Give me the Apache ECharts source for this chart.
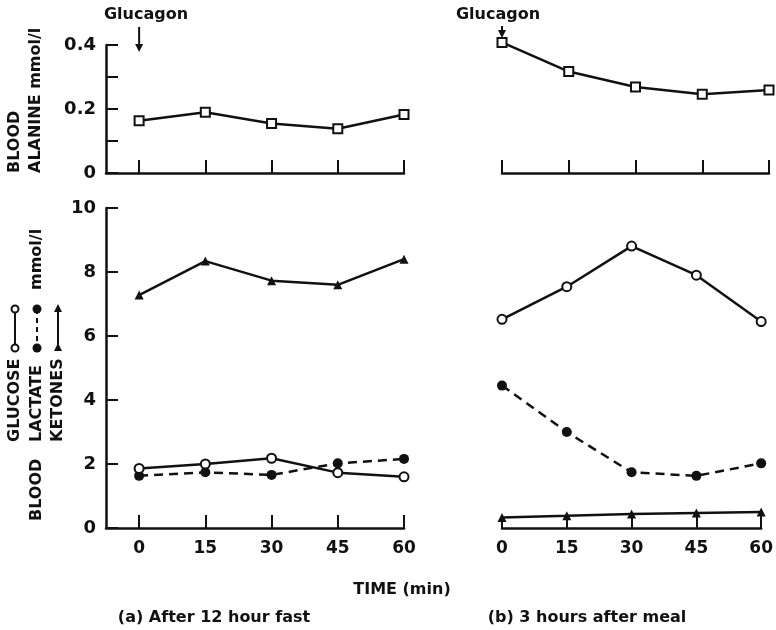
<!DOCTYPE html>
<html>
<head>
<meta charset="utf-8">
<script src="https://cdn.jsdelivr.net/npm/echarts@6/dist/echarts.min.js"></script>
<style>
  html, body { margin: 0; background: #fff; }
  #chart { width: 776px; height: 630px; }
</style>
</head>
<body>
<div id="chart"></div>
<script>
// time after glucagon (min)
const times = [0, 15, 30, 45, 60]

// (a) after 12 hour fast
const alanineFast = [0.163, 0.19, 0.155, 0.138, 0.183]
const glucoseFast = [1.86, 2.0, 2.18, 1.73, 1.6]
const lactateFast = [1.63, 1.74, 1.66, 2.02, 2.16]
const ketonesFast = [7.28, 8.34, 7.73, 7.6, 8.4]

// (b) 3 hours after meal
const alanineMeal = [0.408, 0.317, 0.269, 0.246, 0.259]
const glucoseMeal = [6.52, 7.54, 8.81, 7.9, 6.45]
const lactateMeal = [4.45, 3.0, 1.74, 1.63, 2.02]
const ketonesMeal = [0.33, 0.38, 0.44, 0.47, 0.5]

const alanineTicks = [0, 0.2, 0.4]

const INK = '#111'
const FONT = 'DejaVu Sans'
const bold = (size) => `bold ${size}px "${FONT}"`

const chart = echarts.init(document.getElementById('chart'))

function xAxis(gridIndex, min, labels) {
  return {
    type: 'value', gridIndex, min, max: 60,
    axisLine: { onZero: false, lineStyle: { color: INK, width: 2.5 } },
    axisTick: { inside: true, length: 13, customValues: times, lineStyle: { color: INK, width: 2 } },
    axisLabel: {
      show: labels, customValues: times, margin: 12,
      color: INK, fontFamily: FONT, fontWeight: 'bold', fontSize: 17
    },
    splitLine: { show: false }
  }
}

function yAxis(gridIndex, max, interval, labelValues, show) {
  return {
    type: 'value', gridIndex, min: 0, max, interval, show,
    axisLine: { show: true, onZero: false, lineStyle: { color: INK, width: 2.5 } },
    axisTick: { inside: true, length: 12, lineStyle: { color: INK, width: 2 } },
    axisLabel: {
      customValues: labelValues, margin: 10,
      formatter: (v) => (v === 0 ? '0' : (max < 1 ? v.toFixed(1) : String(v))),
      color: INK, fontFamily: FONT, fontWeight: 'bold', fontSize: 18
    },
    splitLine: { show: false }
  }
}

function line(idx, vals, symbol, size, dashed) {
  const empty = symbol.indexOf('empty') === 0
  return {
    type: 'line', xAxisIndex: idx, yAxisIndex: idx,
    data: times.map((t, i) => [t, vals[i]]),
    symbol, symbolSize: size, clip: false, animation: false,
    lineStyle: { color: INK, width: 2.5, type: dashed ? [9, 6] : 'solid' },
    itemStyle: { color: INK, borderColor: INK, borderWidth: empty ? 2 : 0 },
    z: empty ? 3 : 2
  }
}

chart.setOption({
  animation: false,
  grid: [
    { left: 106, top: 45, width: 298, height: 128 },
    { left: 502, top: 45, width: 267, height: 128 },
    { left: 106, top: 208, width: 298, height: 320 },
    { left: 502, top: 208, width: 267, height: 320 }
  ],
  xAxis: [
    xAxis(0, -7.5, false),
    xAxis(1, 0, false),
    xAxis(2, -7.5, true),
    xAxis(3, 0, true)
  ],
  yAxis: [
    yAxis(0, 0.4, 0.1, alanineTicks, true),
    yAxis(1, 0.4, 0.1, alanineTicks, false),
    yAxis(2, 10, 2, undefined, true),
    yAxis(3, 10, 2, undefined, false)
  ],
  series: [
    line(0, alanineFast, 'emptyRect', 9, false),
    line(1, alanineMeal, 'emptyRect', 9, false),
    line(2, ketonesFast, 'triangle', 9, false),
    line(2, lactateFast, 'circle', 10, true),
    line(2, glucoseFast, 'emptyCircle', 9, false),
    line(3, ketonesMeal, 'triangle', 9, false),
    line(3, lactateMeal, 'circle', 10, true),
    line(3, glucoseMeal, 'emptyCircle', 9, false)
  ]
})

// annotations: glucagon arrows, rotated axis titles, symbol key
const ax = chart.convertToPixel({ gridIndex: 0 }, [0, 0])[0]
const bx = chart.convertToPixel({ gridIndex: 1 }, [0, 0])[0]

function text(str, x, y, size, extra) {
  return Object.assign({ type: 'text', x, y, style: { text: str, font: bold(size), fill: INK, align: 'center', verticalAlign: 'middle' } }, extra)
}
function vtext(str, x, yBottom, size) {
  return { type: 'text', x, y: yBottom, rotation: Math.PI / 2,
    style: { text: str, font: bold(size), fill: INK, align: 'left', verticalAlign: 'middle' } }
}
function arrow(x, y1, y2) {
  return [
    { type: 'line', shape: { x1: x, y1, x2: x, y2: y2 - 4 }, style: { stroke: INK, lineWidth: 2 } },
    { type: 'polygon', shape: { points: [[x - 4, y2 - 8], [x + 4, y2 - 8], [x, y2]] }, style: { fill: INK } }
  ]
}
function keyMark(x, kind) {
  const yTop = 309, yBot = 348
  const out = [{ type: 'line', shape: { x1: x, y1: yTop, x2: x, y2: yBot },
    style: { stroke: INK, lineWidth: 2, lineDash: kind === 'lactate' ? [5, 4] : null } }]
  ;[yTop, yBot].forEach((y) => {
    if (kind === 'glucose') out.push({ type: 'circle', shape: { cx: x, cy: y, r: 3.5 }, style: { fill: '#fff', stroke: INK, lineWidth: 2 } })
    else if (kind === 'lactate') out.push({ type: 'circle', shape: { cx: x, cy: y, r: 4.5 }, style: { fill: INK } })
    else out.push({ type: 'polygon', shape: { points: [[x - 4, y + 3], [x + 4, y + 3], [x, y - 5]] }, style: { fill: INK } })
  })
  return out
}

chart.setOption({
  graphic: [
    text('Glucagon', 146, 15, 16),
    text('Glucagon', 498, 15, 16),
    ...arrow(ax, 27, 52),
    ...arrow(bx, 26, 38),
    vtext('BLOOD', 15, 173, 16),
    vtext('ALANINE mmol/l', 36, 173, 16),
    vtext('GLUCOSE', 15, 442, 16),
    vtext('LACTATE', 37, 442, 16),
    vtext('KETONES', 58, 442, 16),
    vtext('mmol/l', 37, 290, 16),
    vtext('BLOOD', 37, 521, 16),
    ...keyMark(15, 'glucose'),
    ...keyMark(37, 'lactate'),
    ...keyMark(58, 'ketones'),
    text('TIME (min)', 402, 590, 16),
    text('(a) After 12 hour fast', 214, 618, 16),
    text('(b) 3 hours after meal', 587, 618, 16)
  ]
})
</script>
</body>
</html>
